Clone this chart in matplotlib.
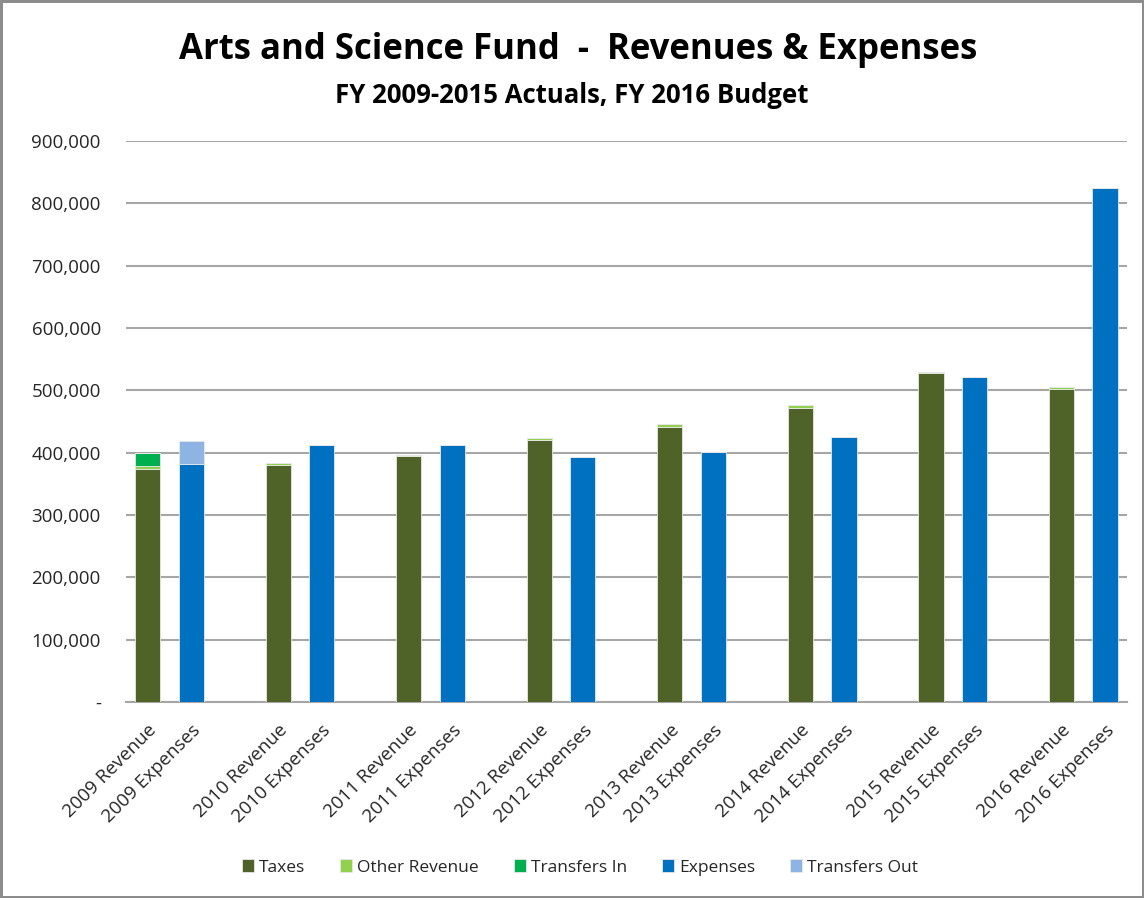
import numpy as np
import matplotlib.pyplot as plt
from matplotlib.ticker import FuncFormatter

# categories (blank entries are the spacer slots between years)
categories = ["2009 Revenue", "2009 Expenses", "",
              "2010 Revenue", "2010 Expenses", "",
              "2011 Revenue", "2011 Expenses", "",
              "2012 Revenue", "2012 Expenses", "",
              "2013 Revenue", "2013 Expenses", "",
              "2014 Revenue", "2014 Expenses", "",
              "2015 Revenue", "2015 Expenses", "",
              "2016 Revenue", "2016 Expenses"]

taxes =         [373000, 0, 0, 380000, 0, 0, 394500, 0, 0, 420000, 0, 0,
                 441500, 0, 0, 472000, 0, 0, 527000, 0, 0, 502000, 0]
other_revenue = [5500, 0, 0, 4000, 0, 0, 2000, 0, 0, 3000, 0, 0,
                 4000, 0, 0, 4500, 0, 0, 3000, 0, 0, 3000, 0]
transfers_in =  [21500, 0, 0, 0, 0, 0, 0, 0, 0, 0, 0, 0,
                 0, 0, 0, 0, 0, 0, 0, 0, 0, 0, 0]
expenses =      [0, 382000, 0, 0, 412000, 0, 0, 412000, 0, 0, 392500, 0,
                 0, 401500, 0, 0, 424500, 0, 0, 521000, 0, 0, 824000]
transfers_out = [0, 37000, 0, 0, 0, 0, 0, 0, 0, 0, 0, 0,
                 0, 0, 0, 0, 0, 0, 0, 0, 0, 0, 0]

series = [
    ("Taxes", taxes, "#4F6228"),
    ("Other Revenue", other_revenue, "#92D050"),
    ("Transfers In", transfers_in, "#00B050"),
    ("Expenses", expenses, "#0070C0"),
    ("Transfers Out", transfers_out, "#8DB4E2"),
]

plt.rcParams['font.family'] = ['Open Sans', 'DejaVu Sans']

fig = plt.figure(figsize=(11.44, 8.98), dpi=100)
fig.patch.set_edgecolor("#8c8c8c")
fig.patch.set_linewidth(2.5)
ax = fig.add_axes([0.110, 0.2183, 0.875, 0.6247])

x = np.arange(len(categories))
bottom = np.zeros(len(categories))
for label, vals, color in series:
    vals = np.array(vals, dtype=float)
    ax.bar(x, vals, width=0.58, bottom=bottom, color=color, label=label,
           edgecolor="#e8e8e8", linewidth=0.6, zorder=3)
    bottom += vals

ax.set_xlim(-0.5, len(categories) - 0.5)
ax.set_ylim(0, 900000)
ax.set_yticks(np.arange(0, 900001, 100000))
ax.yaxis.set_major_formatter(FuncFormatter(lambda v, p: "-" if v == 0 else f"{int(v):,}"))
ax.grid(True, axis='y', color="#a6a6a6", linewidth=1.5, zorder=0)
ax.set_xticks(x)
ax.set_xticklabels(categories, rotation=45, ha='right', rotation_mode='anchor')
ax.tick_params(axis='both', length=0, labelsize=13.5, colors="#262626")
ax.tick_params(axis='y', pad=18)
ax.tick_params(axis='x', pad=14)
for s in ["top", "right", "left"]:
    ax.spines[s].set_visible(False)
ax.spines["bottom"].set_color("#a6a6a6")
ax.spines["bottom"].set_linewidth(1.5)

fig.text(0.505, 0.944, "Arts and Science Fund  -  Revenues & Expenses",
         ha='center', va='center', fontsize=25, fontweight='bold', color="black")
fig.text(0.5, 0.894, "FY 2009-2015 Actuals, FY 2016 Budget",
         ha='center', va='center', fontsize=18.5, fontweight='bold', color="black")

fig.legend(loc='center', bbox_to_anchor=(0.507, 0.034), ncol=5, frameon=False,
           fontsize=12.5, handlelength=0.7, handleheight=0.7, columnspacing=2.0,
           handletextpad=0.3, labelcolor="#262626")

fig.savefig("out.png", dpi=100, edgecolor=fig.get_edgecolor())
